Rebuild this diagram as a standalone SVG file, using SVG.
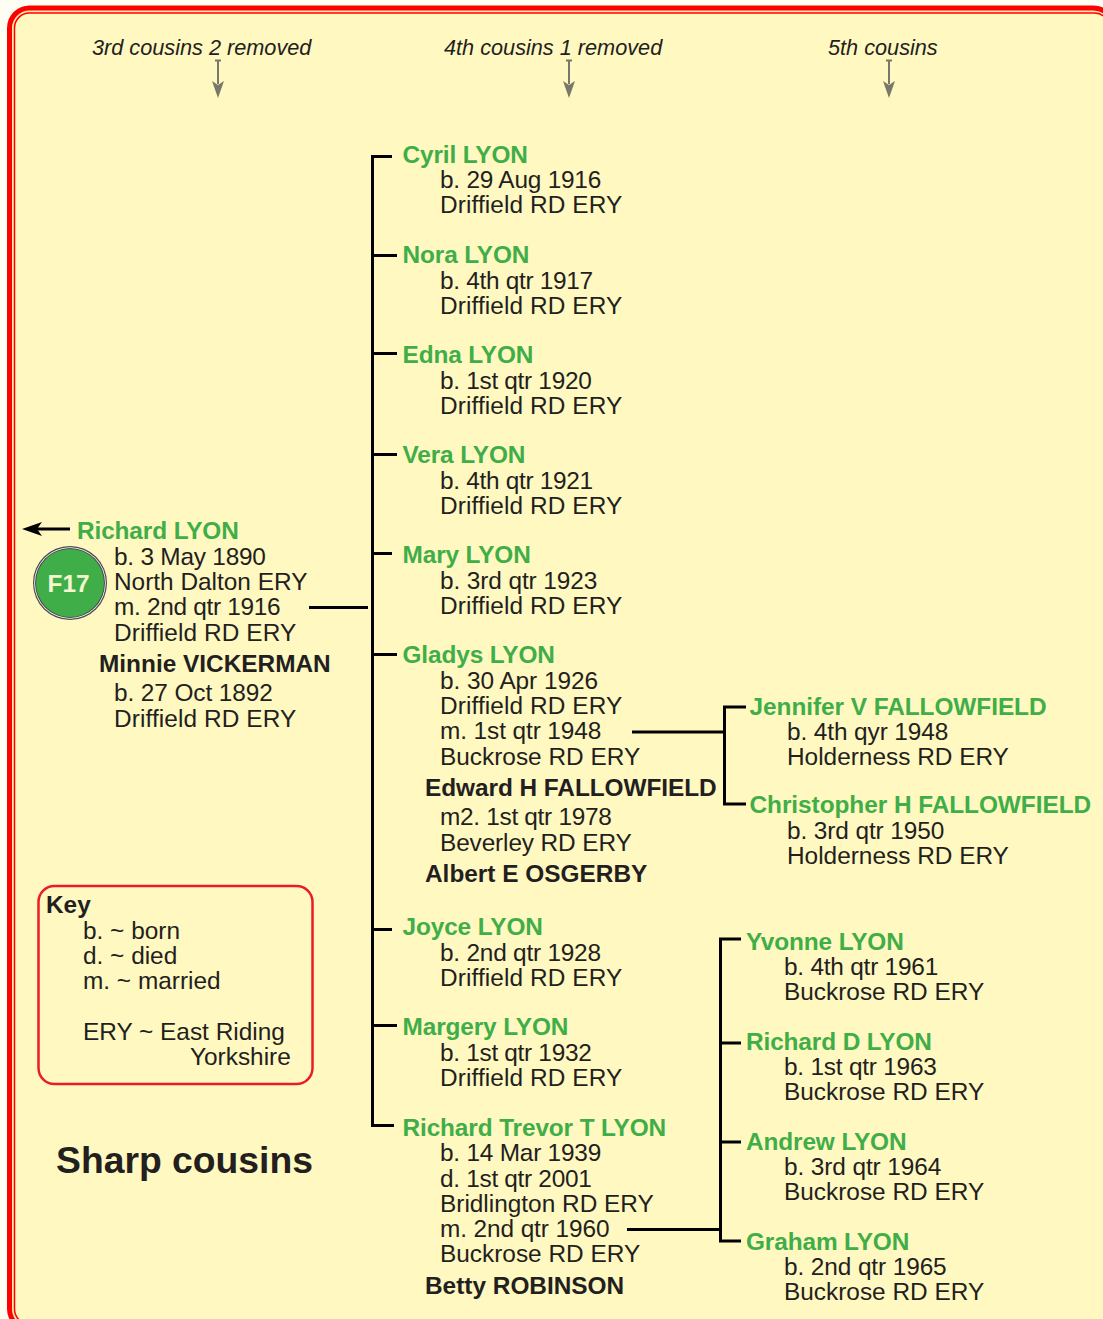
<svg xmlns="http://www.w3.org/2000/svg" width="1103" height="1319" viewBox="0 0 1103 1319">
<style>
text{font-family:"Liberation Sans",Arial,sans-serif;font-size:24.4px;fill:#231f20}
.g{font-weight:bold;fill:#3fae49;letter-spacing:-0.12px}
.w{letter-spacing:-0.05px}
.b{font-weight:bold}
.d{letter-spacing:-0.22px}
.e{letter-spacing:-0.1px}
.f{letter-spacing:-0.3px}
.p{letter-spacing:0.1px}
.h{font-style:italic;font-size:21.7px}
.l{stroke:#000;stroke-width:3;fill:none}
.t{stroke:#77776a;stroke-width:2;fill:none}
</style>
<rect width="1103" height="1319" fill="#fffef5"/>
<rect x="9.500" y="8" width="1104" height="1321" rx="20" fill="#ffe8b0" stroke="#f00" stroke-width="5"/>
<rect x="14.500" y="13" width="1095" height="1311" rx="15" fill="#fff8c0" stroke="#f00" stroke-width="1.500"/>

<g id="headers">
<text class="h" x="92" y="55">3rd cousins 2 removed</text>
<text class="h" x="444" y="55">4th cousins 1 removed</text>
<text class="h" x="828" y="55">5th cousins</text>
</g>
<g id="connectors">
<g id="header-arrows">
<path class="t" d="M215 60.500H221M218 60.500V84M566 60.500H572M569 60.500V84M886 60.500H892M889 60.500V84"/>
<path fill="#77776a" d="M212 81L218 85L224 81L218 98ZM563 81L569 85L575 81L569 98ZM883 81L889 85L895 81L889 98Z"/>
</g>
<path class="l" d="M70 529H34"/>
<path fill="#000" d="M22 529L42 522L37 529L42 536Z"/>
<path class="l" d="M309 607.500H368"/>
<path class="l" d="M392 156.500H372.500V1125.500H394M372.500 255.500H397M372.500 353.500H397M372.500 454.500H397M372.500 553.500H392M372.500 654.500H397M372.500 929.500H392M372.500 1025.500H397"/>
<path class="l" d="M632 732H724.500M746 707H724.500V804H746"/>
<path class="l" d="M627 1229.500H720.500M741 939H720.500V1241H741M720.500 1043H741M720.500 1142H741"/>
</g>

<g id="f17"><circle cx="70" cy="583" r="37" fill="#4a4a4a"/><circle cx="70" cy="583" r="35.800" fill="#fff"/><circle cx="70" cy="583" r="35" fill="#4a4a4a"/><circle cx="70" cy="583" r="34" fill="#3fae49"/><text x="68.500" y="592" text-anchor="middle" font-weight="bold" style="fill:#f5f5d0">F17</text></g>
<g id="richard"><text class="g" x="77" y="539">Richard LYON</text><text class="d" x="114" y="565">b. 3 May 1890</text><text x="114" y="590">North Dalton ERY</text><text class="f" x="114" y="615">m. 2nd qtr 1916</text><text class="p" x="114" y="641">Driffield RD ERY</text></g>
<g id="minnie"><text class="b" x="99" y="672">Minnie VICKERMAN</text><text class="e" x="114" y="701">b. 27 Oct 1892</text><text class="p" x="114" y="727">Driffield RD ERY</text></g>

<g id="cyril"><text class="g" x="402.500" y="163">Cyril LYON</text><text class="d" x="440" y="188">b. 29 Aug 1916</text><text class="p" x="440" y="213">Driffield RD ERY</text></g>
<g id="nora"><text class="g" x="402.500" y="263">Nora LYON</text><text class="f" x="440" y="289">b. 4th qtr 1917</text><text class="p" x="440" y="314">Driffield RD ERY</text></g>
<g id="edna"><text class="g" x="402.500" y="363">Edna LYON</text><text class="f" x="440" y="389">b. 1st qtr 1920</text><text class="p" x="440" y="414">Driffield RD ERY</text></g>
<g id="vera"><text class="g" x="402.500" y="463">Vera LYON</text><text class="f" x="440" y="489">b. 4th qtr 1921</text><text class="p" x="440" y="514">Driffield RD ERY</text></g>
<g id="mary"><text class="g" x="402.500" y="563">Mary LYON</text><text class="e" x="440" y="589">b. 3rd qtr 1923</text><text class="p" x="440" y="614">Driffield RD ERY</text></g>
<g id="gladys"><text class="g" x="402.500" y="663">Gladys LYON</text><text x="440" y="688.500" style="letter-spacing:-0.05px">b. 30 Apr 1926</text><text class="p" x="440" y="713.500">Driffield RD ERY</text><text class="e" x="440" y="739">m. 1st qtr 1948</text><text x="440" y="765">Buckrose RD ERY</text></g>
<g id="edward"><text class="b w" x="425" y="796">Edward H FALLOWFIELD</text><text class="f" x="440" y="825">m2. 1st qtr 1978</text><text x="440" y="851" style="letter-spacing:-0.12px">Beverley RD ERY</text></g>
<g id="albert"><text class="b" x="425" y="882">Albert E OSGERBY</text></g>
<g id="joyce"><text class="g" x="402.500" y="935">Joyce LYON</text><text class="d" x="440" y="960.500">b. 2nd qtr 1928</text><text class="p" x="440" y="985.500">Driffield RD ERY</text></g>
<g id="margery"><text class="g" x="402.500" y="1035">Margery LYON</text><text class="f" x="440" y="1060.500">b. 1st qtr 1932</text><text class="p" x="440" y="1085.500">Driffield RD ERY</text></g>
<g id="trevor"><text class="g" x="402.500" y="1136">Richard Trevor T LYON</text><text class="d" x="440" y="1161">b. 14 Mar 1939</text><text class="f" x="440" y="1187">d. 1st qtr 2001</text><text x="440" y="1212">Bridlington RD ERY</text><text class="e" x="440" y="1237">m. 2nd qtr 1960</text><text x="440" y="1262">Buckrose RD ERY</text></g>
<g id="betty"><text class="b" x="425" y="1294">Betty ROBINSON</text></g>

<g id="jennifer"><text class="g w" x="749.500" y="715">Jennifer V FALLOWFIELD</text><text class="e" x="787" y="740">b. 4th qyr 1948</text><text x="787" y="765">Holderness RD ERY</text></g>
<g id="christopher"><text class="g w" x="749.500" y="813">Christopher H FALLOWFIELD</text><text class="e" x="787" y="839">b. 3rd qtr 1950</text><text x="787" y="864">Holderness RD ERY</text></g>
<g id="yvonne"><text class="g" x="746" y="950">Yvonne LYON</text><text class="d" x="784" y="975">b. 4th qtr 1961</text><text x="784" y="1000">Buckrose RD ERY</text></g>
<g id="richardd"><text class="g" x="746" y="1050">Richard D LYON</text><text class="d" x="784" y="1075">b. 1st qtr 1963</text><text x="784" y="1100">Buckrose RD ERY</text></g>
<g id="andrew"><text class="g" x="746" y="1150">Andrew LYON</text><text class="e" x="784" y="1175">b. 3rd qtr 1964</text><text x="784" y="1200">Buckrose RD ERY</text></g>
<g id="graham"><text class="g" x="746" y="1250">Graham LYON</text><text class="e" x="784" y="1275">b. 2nd qtr 1965</text><text x="784" y="1300">Buckrose RD ERY</text></g>

<g id="key"><rect x="38.500" y="886" width="274" height="198" rx="16" fill="none" stroke="#ed1c24" stroke-width="2.500"/><text class="b" x="46" y="913">Key</text><text x="83" y="939">b. ~ born</text><text x="83" y="964">d. ~ died</text><text x="83" y="989">m. ~ married</text><text x="83" y="1040">ERY ~ East Riding</text><text x="190" y="1065">Yorkshire</text></g>
<g id="title"><text x="56" y="1173" font-weight="bold" style="font-size:37.300px">Sharp cousins</text></g>
</svg>
